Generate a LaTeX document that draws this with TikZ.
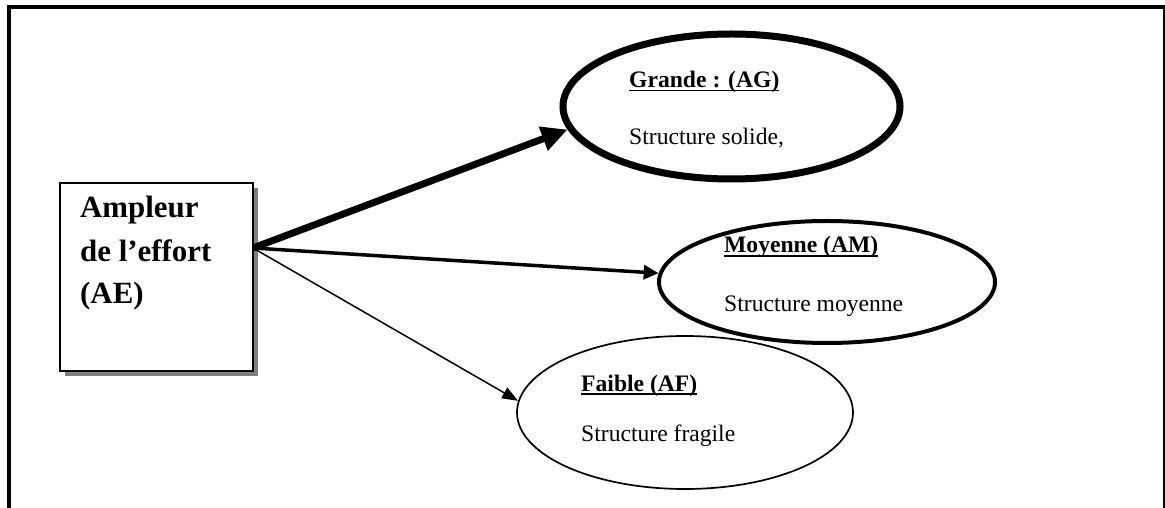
\documentclass[tikz,border=0pt]{standalone}
\usepackage{fontspec}
\setmainfont{Liberation Serif}
\usetikzlibrary{arrows.meta,shapes.geometric,shadows}
% underline set just below the baseline
\newcommand\ulword[1]{{\setbox0\hbox{#1}\rlap{\rule[-4bp]{\wd0}{1.7bp}}\box0}}
\begin{document}
\begin{tikzpicture}[x=1bp,y=-1bp,
  boxtext/.style={font=\fontsize{31}{37}\selectfont\bfseries, inner sep=0, anchor=base west},
  oval/.style={ellipse, draw, inner sep=0},
  ovaltitle/.style={font=\fontsize{23.7}{28}\selectfont\bfseries, inner sep=0, anchor=base west},
  ovaltext/.style={font=\fontsize{23.7}{28}\selectfont, inner sep=0, anchor=base west}]
\useasboundingbox (0,0) rectangle (1165,508);

% outer frame (open at the bottom)
\draw[line width=4bp] (9,508) -- (9,7.5) -- (1164.5,7.5);
\draw[line width=2bp] (1163.5,7.5) -- (1163.5,508);

% source box with drop shadow
\node[draw, line width=2bp, fill=white, minimum width=193bp, minimum height=188bp,
      inner sep=0, anchor=north west,
      drop shadow={shadow xshift=5bp, shadow yshift=-5bp, fill=black!50, opacity=1}]
      (box) at (59,182) {};
\node[boxtext] (ae1) at (80,218) {Ampleur};
\node[boxtext] (ae2) at (80,262) {de l’effort};
\node[boxtext] (ae3) at (80,304) {(AE)};

% the three levels
\node[oval, line width=7bp, minimum width=337bp, minimum height=145bp] (ag) at (731.5,106.5) {};
\node[oval, line width=4bp, minimum width=336bp, minimum height=122bp] (am) at (827,282) {};
\node[oval, line width=1.7bp, minimum width=336bp, minimum height=153bp] (af) at (685,412.5) {};

\node[ovaltitle] (agt) at (629,87.5) {\ulword{Grande : (AG)}};
\node[ovaltext]  (agd) at (629,145) {Structure solide,};
\node[ovaltitle] (amt) at (724,253) {\ulword{Moyenne (AM)}};
\node[ovaltext]  (amd) at (724,311.5) {Structure moyenne};
\node[ovaltitle] (aft) at (581,391) {\ulword{Faible (AF)}};
\node[ovaltext]  (afd) at (581,441) {Structure fragile};

% connectors, thickness by level
\coordinate (src) at (253,248);
\draw[line width=7bp, -{Triangle[length=26bp,width=24bp]}] (src) -- (ag.188);
\draw[line width=3.5bp, -{Triangle[length=15bp,width=14bp]}] (src) -- (am.177);
\draw[line width=1.5bp, -{Triangle[length=16bp,width=12bp]}] (src) -- (af.176);
\end{tikzpicture}
\end{document}
